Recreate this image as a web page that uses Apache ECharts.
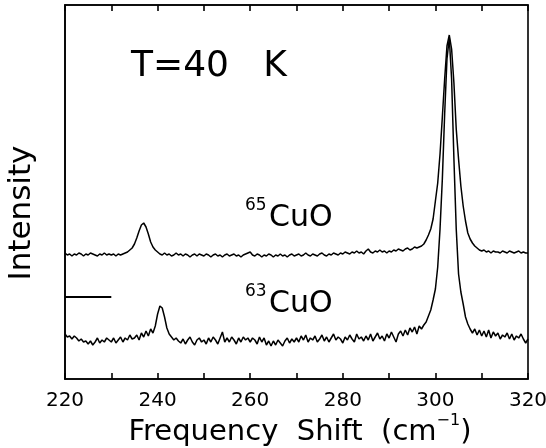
<!DOCTYPE html>
<html>
<head>
<meta charset="utf-8">
<script src="https://cdn.jsdelivr.net/npm/echarts@6/dist/echarts.min.js"></script>
<style>html,body{margin:0;padding:0;background:#fff}#c{width:546px;height:448px}</style>
</head>
<body>
<div id="c"></div>
<script>
// Frequency grid: 220 to 320 cm^-1, sampled every 0.5
var xStart = 220, xStep = 0.5;
var xTicks = [220, 240, 260, 280, 300, 320];

// 65CuO intensity (arbitrary units)
var cu65 = [
126,124,125,123,125,124,126,125,123,125,
124,126,125,124,123,125,124,126,124,125,
124,125,123,125,124,125,126,127,129,131,
135,141,148,154,156,152,145,137,132,129,
127,125,124,126,124,125,123,124,126,124,
125,123,125,124,122,124,125,123,125,124,
123,125,124,122,124,125,123,124,122,124,
125,123,124,125,123,124,122,124,125,126,
127,124,123,125,124,122,124,123,125,124,
122,124,123,125,123,124,122,124,125,123,
124,125,123,124,126,124,123,125,124,123,
125,126,124,123,125,124,126,125,124,126,
125,127,126,125,127,126,128,126,127,125,
128,130,127,126,128,127,129,127,128,126,
128,127,129,128,130,129,128,130,131,129,
130,132,131,132,133,135,139,144,150,160,
178,196,225,262,300,333,344,330,296,250,
220,193,173,158,146,140,136,133,131,129,
128,129,127,128,126,128,127,127,126,128,
127,126,128,127,126,127,128,126,127,126,
126
];

// 63CuO intensity (arbitrary units)
var cu63 = [
45,42,43,40,43,41,38,40,37,38,
35,38,34,37,41,36,39,37,41,39,
37,41,36,39,42,37,41,39,44,40,
41,44,39,46,42,48,43,50,46,53,
65,73,71,62,51,45,42,39,41,38,
36,40,35,39,42,37,34,39,41,37,
39,35,41,37,42,39,35,41,47,37,
41,37,42,39,35,41,37,42,39,41,
37,41,39,35,42,37,41,34,38,33,
38,34,39,36,33,38,41,36,40,37,
41,37,43,39,44,37,41,39,43,37,
40,44,38,42,37,41,45,39,42,40,
36,42,39,44,40,37,45,40,42,38,
43,39,45,38,42,46,40,43,38,45,
41,47,42,37,45,48,43,49,44,51,
47,52,45,53,50,54,57,63,69,79,
90,112,150,200,265,320,341,300,220,150,
105,87,75,62,55,50,46,50,44,49,
43,48,42,49,41,47,43,46,40,44,
42,46,40,45,39,43,41,45,40,36,
40
];

// zero-level marker for the lower spectrum
var markerX = [220, 230];
var markerY = [82, 82];

function pairs(ys) {
  var out = [];
  for (var i = 0; i < ys.length; i++) out.push([xStart + i * xStep, ys[i]]);
  return out;
}

var FONT = 'DejaVu Sans';
var chart = echarts.init(document.getElementById('c'), null, {renderer: 'canvas'});
chart.setOption({
  animation: false,
  backgroundColor: '#fff',
  grid: {left: 65, right: 18, top: 5, bottom: 69, containLabel: false, outerBoundsMode: 'none',
         show: true, borderColor: '#000', borderWidth: 1.6, backgroundColor: 'transparent'},
  xAxis: [{
    type: 'value', min: 220, max: 320, interval: 10, position: 'bottom',
    axisLine: {show: true, lineStyle: {color: '#000', width: 1.6}},
    axisTick: {show: true, inside: true, length: 6, lineStyle: {color: '#000', width: 1.6}},
    splitLine: {show: false},
    axisLabel: {
      margin: 12, color: '#000', fontSize: 20, fontFamily: FONT,
      formatter: function (v) { return xTicks.indexOf(v) >= 0 ? String(v) : ''; }
    }
  }, {
    type: 'value', min: 220, max: 320, interval: 10, position: 'top',
    axisLine: {show: true, lineStyle: {color: '#000', width: 1.6}},
    axisTick: {show: true, inside: true, length: 6, lineStyle: {color: '#000', width: 1.6}},
    splitLine: {show: false},
    axisLabel: {show: false}
  }],
  yAxis: {
    type: 'value', min: 0, max: 374,
    axisLine: {show: true, lineStyle: {color: '#000', width: 1.6}},
    axisTick: {show: false}, axisLabel: {show: false}, splitLine: {show: false}
  },
  series: [
    {type: 'line', name: '65CuO', data: pairs(cu65), showSymbol: false, symbol: 'none',
     lineStyle: {color: '#000', width: 1.5}},
    {type: 'line', name: '63CuO', data: pairs(cu63), showSymbol: false, symbol: 'none',
     lineStyle: {color: '#000', width: 1.5}},
    {type: 'line', name: 'marker', data: [[markerX[0], markerY[0]], [markerX[1], markerY[1]]], showSymbol: false, symbol: 'none',
     lineStyle: {color: '#000', width: 2}}
  ],
  graphic: [
    {type: 'text', x: 131, y: 67, style: {text: 'T=40   K', fontSize: 36, fontFamily: FONT, fill: '#000', align: 'left', verticalAlign: 'middle'}},
    {type: 'text', x: 245, y: 206, style: {text: '65', fontSize: 17, fontFamily: FONT, fill: '#000', align: 'left', verticalAlign: 'middle'}},
    {type: 'text', x: 269, y: 218, style: {text: 'CuO', fontSize: 30, fontFamily: FONT, fill: '#000', align: 'left', verticalAlign: 'middle'}},
    {type: 'text', x: 245, y: 292, style: {text: '63', fontSize: 17, fontFamily: FONT, fill: '#000', align: 'left', verticalAlign: 'middle'}},
    {type: 'text', x: 269, y: 304, style: {text: 'CuO', fontSize: 30, fontFamily: FONT, fill: '#000', align: 'left', verticalAlign: 'middle'}},
    {type: 'text', x: 22, y: 213, rotation: Math.PI / 2, style: {text: 'Intensity', fontSize: 31, fontFamily: FONT, fill: '#000', align: 'center', verticalAlign: 'middle'}},
    {type: 'text', x: 300, y: 430, style: {
      text: '{a|Frequency  Shift  (cm}{s|−1}{a|)}', align: 'center', verticalAlign: 'middle',
      rich: {
        a: {fontSize: 29, fontFamily: FONT, fill: '#000', lineHeight: 34, verticalAlign: 'bottom'},
        s: {fontSize: 16, fontFamily: FONT, fill: '#000', lineHeight: 34, verticalAlign: 'top'}
      }
    }}
  ]
});
</script>
</body>
</html>
